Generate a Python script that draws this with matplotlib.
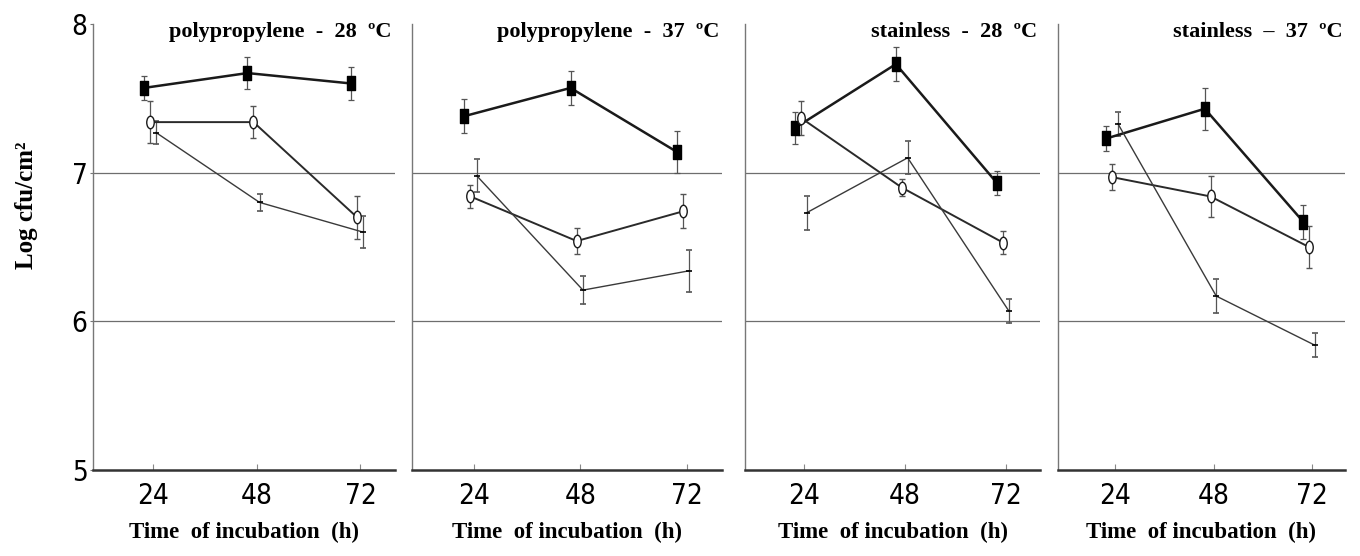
import matplotlib
matplotlib.use("Agg")
import matplotlib.pyplot as plt
from matplotlib.path import Path
from matplotlib.transforms import Affine2D

# Data
hours = [24, 48, 72]
panel_titles = ['polypropylene  -  28  ºC', 'polypropylene  -  37  ºC',
                'stainless  -  28  ºC', 'stainless  –  37  ºC']

sq_means = [[7.57, 7.67, 7.60], [7.38, 7.57, 7.14], [7.30, 7.73, 6.93], [7.23, 7.43, 6.67]]
sq_err = [[0.08, 0.11, 0.11], [0.115, 0.115, 0.14], [0.11, 0.115, 0.08], [0.085, 0.14, 0.115]]
circ_means = [[7.34, 7.34, 6.70], [6.84, 6.54, 6.74], [7.37, 6.90, 6.53], [6.97, 6.84, 6.50]]
circ_err = [[0.14, 0.11, 0.145], [0.08, 0.085, 0.115], [0.115, 0.06, 0.08], [0.085, 0.14, 0.14]]
plus_means = [[7.27, 6.80, 6.60], [6.98, 6.21, 6.34], [6.73, 7.10, 6.07], [7.33, 6.17, 5.84]]
plus_err = [[0.08, 0.055, 0.11], [0.11, 0.095, 0.14], [0.115, 0.11, 0.08], [0.08, 0.115, 0.08]]

y_ticks = [5, 6, 7, 8]

serif = ['Liberation Serif', 'DejaVu Serif']
narrow = ['Liberation Sans Narrow', 'DejaVu Sans Condensed', 'DejaVu Sans']

# tall markers (the original figure is stretched vertically)
rect_marker = Path([(-0.6, -1), (0.6, -1), (0.6, 1), (-0.6, 1), (-0.6, -1)],
                   [Path.MOVETO, Path.LINETO, Path.LINETO, Path.LINETO, Path.CLOSEPOLY])
ell_marker = Path.unit_circle().transformed(Affine2D().scale(0.6, 1.0))

fig = plt.figure(figsize=(13.6, 5.56), dpi=100)

# axes rectangles in pixels: left, width
panels_px = [(93, 302), (412, 310), (745, 295), (1058, 287)]
W, H = 1360, 556

for i, (left, width) in enumerate(panels_px):
    ax = fig.add_axes([left / W, 86 / H, width / W, 446 / H])
    ax.set_xlim(10, 80)
    ax.set_ylim(5, 8)

    for yv in (6, 7):
        ax.axhline(yv, color='#6e6e6e', lw=0.9, zorder=1)

    # filled squares
    ax.errorbar([h - 2.2 for h in hours], sq_means[i], yerr=sq_err[i],
                color='#1a1a1a', lw=1.8, marker=rect_marker, ms=10,
                mfc='black', mec='black', ecolor='#555555', elinewidth=0.9,
                capsize=2.5, capthick=0.9, zorder=4)
    # open circles
    ax.errorbar([h - 0.8 for h in hours], circ_means[i], yerr=circ_err[i],
                color='#2a2a2a', lw=1.4, marker=ell_marker, ms=9,
                mfc='white', mec='#1a1a1a', mew=1.0, ecolor='#555555',
                elinewidth=0.9, capsize=2.5, capthick=0.9, zorder=4)
    # plus
    ax.errorbar([h + 0.6 for h in hours], plus_means[i], yerr=plus_err[i],
                color='#3a3a3a', lw=1.0, marker='_', ms=5, mew=1.2,
                mec='black', ecolor='#555555', elinewidth=0.9,
                capsize=2.5, capthick=0.9, zorder=4)

    ax.spines['top'].set_visible(False)
    ax.spines['right'].set_visible(False)
    ax.spines['left'].set_color('#777777')
    ax.spines['left'].set_linewidth(1.0)
    ax.spines['bottom'].set_color('#333333')
    ax.spines['bottom'].set_linewidth(1.8)

    ax.set_xticks(hours)
    ax.set_xticklabels([str(h) for h in hours], family=narrow,
                       fontstretch='condensed', fontsize=20)
    ax.tick_params(axis='x', direction='in', length=4, width=0.8,
                   color='#888888', pad=9)

    if i == 0:
        ax.set_yticks(y_ticks)
        ax.set_yticklabels([str(v) for v in y_ticks], family=narrow,
                           fontstretch='condensed', fontsize=20)
        ax.tick_params(axis='y', direction='out', length=2, width=0.8,
                       color='#777777', pad=2)
    else:
        ax.set_yticks([])

    ax.text(0.99, 0.982, panel_titles[i], transform=ax.transAxes,
            ha='right', va='center', family=serif, fontweight='bold',
            fontsize=16)
    ax.text(0.5, -0.141, 'Time  of incubation  (h)', transform=ax.transAxes,
            ha='center', va='center', family=serif, fontweight='bold',
            fontsize=16.5)

fig.text(26 / W, 1 - 205 / H, 'Log cfu/cm²', rotation=90, ha='center',
         va='center', family=serif, fontweight='bold', fontsize=18)

fig.savefig('out.png', dpi=100, facecolor='white')
